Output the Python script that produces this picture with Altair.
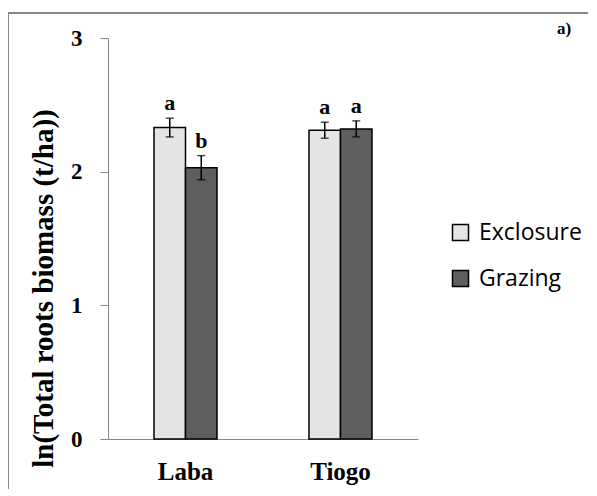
import altair as alt
import pandas as pd

sites = ["Laba", "Laba", "Tiogo", "Tiogo"]
treatments = ["Exclosure", "Grazing", "Exclosure", "Grazing"]
means = [2.33, 2.03, 2.31, 2.32]
errors = [0.07, 0.09, 0.06, 0.06]
letters = ["a", "b", "a", "a"]

df = pd.DataFrame({
    "site": sites,
    "treatment": treatments,
    "mean": means,
    "err": errors,
    "letter": letters,
})
df["lo"] = df["mean"] - df["err"]
df["hi"] = df["mean"] + df["err"]

serif = "Liberation Serif"
fill_scale = alt.Scale(domain=["Exclosure", "Grazing"], range=["#e4e4e4", "#5e5e5e"])
x_enc = alt.X("site:N", scale=alt.Scale(paddingInner=0.5935, paddingOuter=0.2968),
              axis=alt.Axis(title=None, labelAngle=0, ticks=False, domainColor="#888888",
                            labelFont=serif, labelFontWeight="bold", labelFontSize=25,
                            labelPadding=20, labelColor="black"))
xo_enc = alt.XOffset("treatment:N", scale=alt.Scale(paddingInner=0, paddingOuter=0))

base = alt.Chart(df)

bars = base.mark_bar(stroke="black", strokeWidth=1.5).encode(
    x=x_enc,
    xOffset=xo_enc,
    y=alt.Y("mean:Q", scale=alt.Scale(domain=[0, 3]),
            axis=alt.Axis(values=[0, 1, 2, 3], format="d", grid=False, domainColor="#888888",
                          tickColor="#888888", tickSize=8, labelPadding=18,
                          labelFont=serif, labelFontWeight="bold", labelFontSize=23,
                          labelColor="black",
                          title="ln(Total roots biomass (t/ha))",
                          titleFont=serif, titleFontWeight="bold", titleFontSize=29,
                          titleColor="black", titleAngle=-90, titleAlign="center",
                          titleBaseline="alphabetic", titleX=-56, titleY=250)),
    fill=alt.Fill("treatment:N", scale=fill_scale,
                  legend=alt.Legend(title=None, orient="none", legendX=341, legendY=183,
                                    symbolType="square", symbolSize=256,
                                    symbolStrokeColor="black", symbolStrokeWidth=1.5,
                                    labelFont="Open Sans", labelFontSize=23,
                                    labelColor="black", rowPadding=22, labelOffset=7)),
)

rules = base.mark_rule(color="black", strokeWidth=1.5).encode(
    x=x_enc, xOffset=xo_enc, y="lo:Q", y2="hi:Q")
cap_hi = base.mark_tick(color="black", orient="horizontal", size=8, thickness=1.5).encode(
    x=x_enc, xOffset=xo_enc, y="hi:Q")
cap_lo = base.mark_tick(color="black", orient="horizontal", size=8, thickness=1.5).encode(
    x=x_enc, xOffset=xo_enc, y="lo:Q")
text = base.mark_text(font=serif, fontWeight="bold", fontSize=22, baseline="bottom",
                      dy=-3, color="black").encode(
    x=x_enc, xOffset=xo_enc, y="hi:Q", text="letter:N")

panel_label = alt.Chart(pd.DataFrame({"t": ["a)"]})).mark_text(
    font=serif, fontWeight="bold", fontSize=17, align="left", baseline="alphabetic",
    color="black").encode(x=alt.value(449), y=alt.value(-4), text="t:N")

border_top = alt.Chart(pd.DataFrame({"k": [0]})).mark_rule(color="#888888", strokeWidth=2).encode(
    x=alt.value(-100), x2=alt.value(489), y=alt.value(-25))
border_left = alt.Chart(pd.DataFrame({"k": [0]})).mark_rule(color="#888888", strokeWidth=2).encode(
    x=alt.value(-100), y=alt.value(-26), y2=alt.value(460))

chart = alt.layer(border_top, border_left, bars, rules, cap_hi, cap_lo, text, panel_label).properties(
    width=310, height=401,
    autosize=alt.AutoSizeParams(type="none"),
    padding={"left": 100, "top": 30, "right": 170, "bottom": 50},
).configure_view(stroke=None)

chart.save("out.html", embed_options={"renderer": "svg", "actions": False})
